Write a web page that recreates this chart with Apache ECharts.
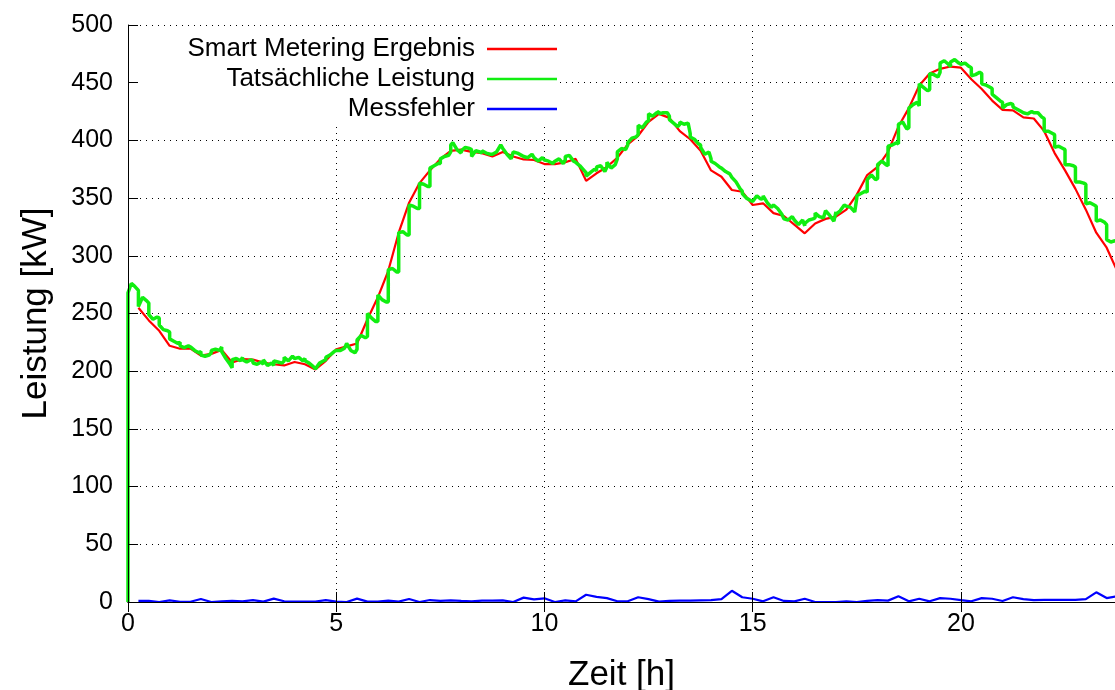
<!DOCTYPE html>
<html>
<head>
<meta charset="utf-8">
<script src="https://cdn.jsdelivr.net/npm/echarts@6/dist/echarts.min.js"></script>
<style>html,body{margin:0;padding:0;background:#fff}#c{width:1115px;height:690px}</style>
</head>
<body>
<div id="c"></div>
<script>
// ---------- data ----------
const seriesNames = ['Smart Metering Ergebnis', 'Tatsächliche Leistung', 'Messfehler'];
const xTickValues = [0, 5, 10, 15, 20];
const yTickValues = [0, 50, 100, 150, 200, 250, 300, 350, 400, 450, 500];

// Smart-meter readings, one every 15 minutes (t = 0.25 h ... 23.75 h)
const meterValues = [
  255, 244, 235, 222, 219.5, 219.5, 213.5, 215, 218.5, 207.5, 210.5, 210,
  207.5, 206, 205, 208, 206, 201.5, 209, 219, 221.5, 224, 245, 264,
  287, 320, 346, 363, 374, 384, 391, 392, 390, 389, 386, 390,
  386, 383.5, 383, 379.5, 379.5, 381, 384, 365, 371.5, 377, 385, 396.5,
  404, 416, 423, 419.5, 408, 401, 391, 374, 368.5, 357, 355.5, 344,
  345.5, 337, 334.5, 327, 319.5, 328, 332, 334, 340, 353, 370, 377,
  390, 412, 428, 447.5, 458, 462, 464, 463, 453, 444.5, 434.5, 426.5,
  426, 420, 419, 408, 389, 374, 358, 340, 320, 307, 287
];

// Measurement error, same 15-minute sampling
const errorValues = [
  0.9, 0.9, 0, 1.4, 0.2, 0.2, 2.6, 0, 0.6, 0.9, 0.6, 1.7,
  0.3, 2.9, 0.6, 0.3, 0.3, 0.3, 1.7, 0.3, 0, 2.9, 0.3, 0.3,
  1.2, 0.3, 2.6, 0, 1.7, 0.9, 1.4, 0.9, 0.6, 1.2, 1.2, 1.4,
  0, 3.8, 2.3, 3.2, 0, 1.4, 0.6, 6.3, 4.4, 3.4, 0.6, 0.6,
  4.1, 2.5, 0.3, 0.9, 1.2, 1.2, 1.4, 1.6, 2.5, 9.7, 4.1, 2.8,
  0.6, 4.1, 0.9, 0.6, 2.8, 0, 0, 0, 0.6, 0, 0.9, 1.6,
  1.2, 5.0, 0.6, 2.8, 0.6, 3.4, 2.8, 1.6, 0.6, 3.4, 2.8, 0.9,
  4.1, 2.5, 1.6, 1.9, 1.9, 1.9, 1.9, 2.5, 8.4, 3.4, 5.0
];

// Actual power [hour, kW]
const actualPower = [
  [0,0],[0,268],[0.08,276],[0.15,274],[0.25,270],
  [0.25,256],[0.35,264],[0.45,261],[0.5,259],
  [0.5,249],[0.6,245],[0.7,247],[0.75,246],
  [0.75,240],[0.85,236],[0.95,235],[1.0,234],
  [1.0,228],[1.1,226],[1.2,224],[1.25,225],
  [1.25,222],[1.35,220.5],[1.45,222],[1.5,221],
  [1.5,221],[1.6,218],[1.7,216],[1.75,217],
  [1.75,214],[1.85,213],[1.95,214],[2.0,216],
  [2.0,218],[2.1,219],[2.2,218],[2.25,221],
  [2.25,217],[2.35,211],[2.45,206],[2.5,203],
  [2.5,210],[2.6,211],[2.7,209],[2.75,212],
  [2.75,210],[2.85,208],[2.95,210],[3.0,209],
  [3.0,207],[3.1,206],[3.2,208],[3.25,206],
  [3.25,210],[3.35,205],[3.45,207],[3.5,205],
  [3.5,209],[3.6,208],[3.7,207],[3.75,209],
  [3.75,212],[3.85,209],[3.95,213],[4.0,211],
  [4.0,210],[4.1,212],[4.2,209],[4.25,211],
  [4.25,209],[4.35,207],[4.45,204],[4.5,202],
  [4.5,203],[4.6,207],[4.7,209],[4.75,210],
  [4.75,212],[4.85,214],[4.95,217],[5.0,218],
  [5.0,219],[5.1,218],[5.2,220],[5.25,224],
  [5.25,223],[5.35,218],[5.45,216],[5.5,219],
  [5.5,227],[5.6,231],[5.7,229],[5.75,230],
  [5.75,250],[5.85,246],[5.95,243],[6.0,243],
  [6.0,266],[6.1,262],[6.2,260],[6.25,260],
  [6.25,288],[6.35,289],[6.45,286],[6.5,286],
  [6.5,320],[6.6,321],[6.7,318],[6.75,318],
  [6.75,344],[6.85,343],[6.95,341],[7.0,341],
  [7.0,363],[7.1,362],[7.2,360],[7.25,360],
  [7.25,376],[7.35,378],[7.45,380],[7.5,380],
  [7.5,384],[7.6,386],[7.7,387],[7.75,390],
  [7.75,396],[7.8,398],[7.9,392],[8.0,389],
  [8.0,391],[8.1,394],[8.2,393],[8.25,392],
  [8.25,386],[8.35,391],[8.45,390],[8.5,389],
  [8.5,391],[8.6,389],[8.7,388],[8.75,388],
  [8.75,387],[8.85,390],[8.95,396],[9.0,393],
  [9.0,392],[9.1,388],[9.2,384],[9.25,390],
  [9.25,390],[9.35,389],[9.45,387],[9.5,386],
  [9.5,387],[9.6,385],[9.7,388],[9.75,385],
  [9.75,384],[9.85,382],[9.95,385],[10.0,383],
  [10.0,384],[10.1,382],[10.2,380],[10.25,382],
  [10.25,381],[10.35,384],[10.45,380],[10.5,383],
  [10.5,386],[10.6,387],[10.7,382],[10.75,381],
  [10.75,382],[10.85,378],[10.95,374],[11.0,372],
  [11.0,369],[11.1,372],[11.2,375],[11.25,374],
  [11.25,377],[11.35,378],[11.45,373],[11.5,377],
  [11.5,381],[11.6,376],[11.7,379],[11.75,384],
  [11.75,390],[11.85,393],[11.95,392],[12.0,396],
  [12.0,398],[12.1,402],[12.2,403],[12.25,405],
  [12.25,413],[12.35,411],[12.45,416],[12.5,417],
  [12.5,423],[12.6,421],[12.7,424],[12.75,425],
  [12.75,423],[12.85,424],[12.95,424],[13.0,421],
  [13.0,418],[13.1,415],[13.2,412],[13.25,414],
  [13.25,416],[13.35,414],[13.45,415],[13.5,406],
  [13.5,403],[13.6,401],[13.7,397],[13.75,396],
  [13.75,394],[13.85,388],[13.95,390],[14.0,384],
  [14.0,382],[14.1,380],[14.2,377],[14.25,376],
  [14.25,375],[14.35,373],[14.45,371],[14.5,368],
  [14.5,367],[14.6,364],[14.7,358],[14.75,356],
  [14.75,354],[14.85,350],[14.95,348],[15.0,347],
  [15.0,348],[15.1,352],[15.2,349],[15.25,350],
  [15.25,352],[15.35,346],[15.45,342],[15.5,344],
  [15.5,343],[15.6,341],[15.7,336],[15.75,332],
  [15.75,333],[15.85,331],[15.95,334],[16.0,331],
  [16.0,330],[16.1,327],[16.2,331],[16.25,326],
  [16.25,328],[16.35,331],[16.45,332],[16.5,333],
  [16.5,337],[16.6,334],[16.7,333],[16.75,339],
  [16.75,340],[16.85,335],[16.95,330],[17.0,338],
  [17.0,336],[17.1,339],[17.2,344],[17.25,343],
  [17.25,344],[17.35,342],[17.45,338],[17.5,350],
  [17.5,352],[17.6,354],[17.7,356],[17.75,355],
  [17.75,366],[17.85,370],[17.95,366],[18.0,367],
  [18.0,379],[18.1,382],[18.2,379],[18.25,378],
  [18.25,395],[18.35,396],[18.45,398],[18.5,397],
  [18.5,414],[18.6,416],[18.7,410],[18.75,411],
  [18.75,428],[18.85,431],[18.95,433],[19.0,430],
  [19.0,449],[19.1,446],[19.2,443],[19.25,444],
  [19.25,458],[19.35,457],[19.45,455],[19.5,459],
  [19.5,467],[19.6,469],[19.7,466],[19.75,464],
  [19.75,468],[19.85,470],[19.95,467],[20.0,466],
  [20.0,465],[20.1,467],[20.2,464],[20.25,463],
  [20.25,456],[20.35,457],[20.45,459],[20.5,458],
  [20.5,449],[20.6,448],[20.7,446],[20.75,445],
  [20.75,440],[20.85,437],[20.95,434],[21.0,433],
  [21.0,428],[21.1,431],[21.2,432],[21.25,431],
  [21.25,429],[21.35,427],[21.45,425],[21.5,424],
  [21.5,424],[21.6,423],[21.7,425],[21.75,424],
  [21.75,425],[21.85,424],[21.95,420],[22.0,419],
  [22.0,408],[22.1,408],[22.2,406],[22.25,405],
  [22.25,394],[22.35,395],[22.45,393],[22.5,392],
  [22.5,379],[22.6,379],[22.7,378],[22.75,377],
  [22.75,364],[22.85,364],[22.95,363],[23.0,362],
  [23.0,345],[23.1,346],[23.2,344],[23.25,343],
  [23.25,330],[23.35,331],[23.45,329],[23.5,327],
  [23.5,314],[23.6,312],[23.7,313],[23.75,312]
];

// ---------- build ----------
// 15-minute sampling grid for the meter readings
const meterData = meterValues.map((v, i) => [(i + 1) * 0.25, v]);
const errorData = errorValues.map((v, i) => [(i + 1) * 0.25, v]);

const FONT = '"Liberation Sans", Arial, Helvetica, sans-serif';
const gridDots = { show: true, lineStyle: { color: '#000', width: 1, type: [1, 5] } };
const black = { color: '#000', width: 1 };

// the plotted time window is cut at the right edge of the picture
const xBase = { type: 'value', min: 0, max: 23.7, gridIndex: 0 };
const yBase = { type: 'value', min: 0, max: 500, interval: 50, gridIndex: 0 };
const xTicks = { show: true, inside: true, length: 10, lineStyle: black, customValues: xTickValues };

const chart = echarts.init(document.getElementById('c'), null, { renderer: 'canvas' });
chart.setOption({
  animation: false,
  backgroundColor: '#fff',
  textStyle: { fontFamily: FONT },
  grid: { left: 128, top: 25, right: 0, bottom: 88, containLabel: false, outerBoundsMode: 'none' },
  graphic: {
    elements: [{
      type: 'rect', z: 1,
      shape: { x: 129, y: 26, width: 431, height: 97 },
      style: { fill: '#fff' }
    }]
  },
  xAxis: [
    Object.assign({}, xBase, {
      position: 'bottom', z: 5,
      axisLine: { show: true, lineStyle: black },
      axisTick: xTicks,
      axisLabel: { show: true, fontSize: 25, color: '#000', margin: 10, fontFamily: FONT,
        customValues: xTickValues },
      splitLine: { show: false },
      name: 'Zeit [h]', nameLocation: 'middle', nameGap: 56,
      nameTextStyle: { fontSize: 35, color: '#000', fontFamily: FONT }
    }),
    Object.assign({}, xBase, {
      position: 'top', z: 5,
      axisLine: { show: true, lineStyle: black },
      axisTick: xTicks,
      axisLabel: { show: false },
      splitLine: { show: false }
    }),
    Object.assign({}, xBase, {
      position: 'bottom', z: 0,
      axisLine: { show: false },
      axisTick: { show: false, customValues: xTickValues },
      axisLabel: { show: false, customValues: xTickValues },
      splitLine: gridDots
    })
  ],
  yAxis: [
    Object.assign({}, yBase, {
      position: 'left', z: 5,
      axisLine: { show: true, lineStyle: black },
      axisTick: { show: true, inside: true, length: 10, lineStyle: black },
      axisLabel: { show: true, fontSize: 25, color: '#000', margin: 15, fontFamily: FONT },
      splitLine: { show: false },
      name: 'Leistung [kW]', nameLocation: 'middle', nameGap: 74,
      nameTextStyle: { fontSize: 35, color: '#000', fontFamily: FONT }
    }),
    Object.assign({}, yBase, {
      position: 'left', z: 0,
      axisLine: { show: false }, axisTick: { show: false }, axisLabel: { show: false },
      splitLine: gridDots
    })
  ],
  legend: seriesNames.map((n, i) => ({
    data: [{ name: n, icon: 'rect' }],
    orient: 'horizontal', align: 'right',
    right: 558, top: 34 + 30 * i,
    itemWidth: 70, itemHeight: 2.5, itemGap: 0, padding: 0,
    selectedMode: false, z: 6,
    textStyle: { fontSize: 26, lineHeight: 30, color: '#000', fontFamily: FONT, padding: [0, 7, 0, 0] }
  })),
  series: [
    { name: seriesNames[0], type: 'line', xAxisIndex: 0, yAxisIndex: 0, data: meterData,
      symbol: 'none', z: 2, lineStyle: { color: '#ff0000', width: 2.2 }, itemStyle: { color: '#ff0000' } },
    { name: seriesNames[1], type: 'line', xAxisIndex: 0, yAxisIndex: 0, data: actualPower,
      symbol: 'none', z: 3, lineStyle: { color: '#11ee11', width: 3.5 }, itemStyle: { color: '#11ee11' } },
    { name: seriesNames[2], type: 'line', xAxisIndex: 0, yAxisIndex: 0, data: errorData,
      symbol: 'none', z: 4, lineStyle: { color: '#0000ff', width: 2.2 }, itemStyle: { color: '#0000ff' } }
  ]
});
</script>
</body>
</html>
